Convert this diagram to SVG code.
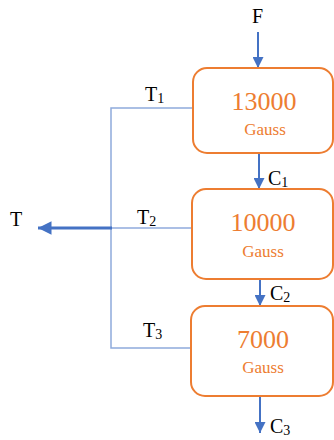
<svg xmlns="http://www.w3.org/2000/svg" width="334" height="440" viewBox="0 0 334 440">
  <style>
    .box { fill: #ffffff; stroke: #ED7D31; stroke-width: 2; }
    .serif { font-family: "Liberation Serif", "Times New Roman", "DejaVu Serif", serif; }
    .val { font-size: 26px; fill: #ED7D31; text-anchor: middle; }
    .unit { font-size: 17px; fill: #ED7D31; text-anchor: middle; }
    .lbl { font-size: 20px; fill: #000000; }
    .sub { font-size: 14px; }
    .flow { stroke: #4472C4; stroke-width: 2; fill: none; }
    .tail { stroke: #8FAADC; stroke-width: 1.5; fill: none; }
    .main { stroke: #4472C4; stroke-width: 3; fill: none; }
  </style>
  <defs>
    <marker id="head" viewBox="0 0 10 10" refX="10" refY="5" markerWidth="5.5" markerHeight="5.5" orient="auto" markerUnits="strokeWidth">
      <path d="M0,0 L10,5 L0,10 z" fill="#4472C4"/>
    </marker>
    <marker id="headT" viewBox="0 0 10 10" refX="10" refY="5" markerWidth="4.5" markerHeight="4.5" orient="auto" markerUnits="strokeWidth">
      <path d="M0,0 L10,5 L0,10 z" fill="#4472C4"/>
    </marker>
  </defs>

  <g id="connectors">
    <line class="flow" x1="258" y1="32" x2="258" y2="68" marker-end="url(#head)"/>
    <line class="flow" x1="259" y1="153" x2="259" y2="189" marker-end="url(#head)"/>
    <line class="flow" x1="260" y1="279" x2="260" y2="306" marker-end="url(#head)"/>
    <line class="flow" x1="260" y1="396" x2="260" y2="433" marker-end="url(#head)"/>
    <polyline class="tail" points="193,108 111,108 111,348 191,348"/>
    <line class="tail" x1="111" y1="228" x2="192" y2="228"/>
    <line class="main" x1="112" y1="228" x2="38" y2="228" marker-end="url(#headT)"/>
  </g>

  <g id="separator-1" class="serif">
    <rect class="box" x="193" y="68" width="140" height="85" rx="14"/>
    <text class="val" x="264" y="110">13000</text>
    <text class="unit" x="265" y="135">Gauss</text>
  </g>
  <g id="separator-2" class="serif">
    <rect class="box" x="192" y="189" width="141" height="90" rx="14"/>
    <text class="val" x="263" y="231">10000</text>
    <text class="unit" x="263" y="257">Gauss</text>
  </g>
  <g id="separator-3" class="serif">
    <rect class="box" x="191" y="306" width="142" height="90" rx="14"/>
    <text class="val" x="263" y="348">7000</text>
    <text class="unit" x="263" y="373">Gauss</text>
  </g>

  <g id="labels" class="serif">
    <text class="lbl" x="252" y="23">F</text>
    <text class="lbl" x="145" y="101">T<tspan class="sub" dy="2">1</tspan></text>
    <text class="lbl" x="10" y="226">T</text>
    <text class="lbl" x="137" y="224">T<tspan class="sub" dy="2">2</tspan></text>
    <text class="lbl" x="143" y="337">T<tspan class="sub" dy="2">3</tspan></text>
    <text class="lbl" x="268" y="185">C<tspan class="sub" dy="2">1</tspan></text>
    <text class="lbl" x="270" y="300">C<tspan class="sub" dy="2">2</tspan></text>
    <text class="lbl" x="270" y="433">C<tspan class="sub" dy="2">3</tspan></text>
  </g>
</svg>
